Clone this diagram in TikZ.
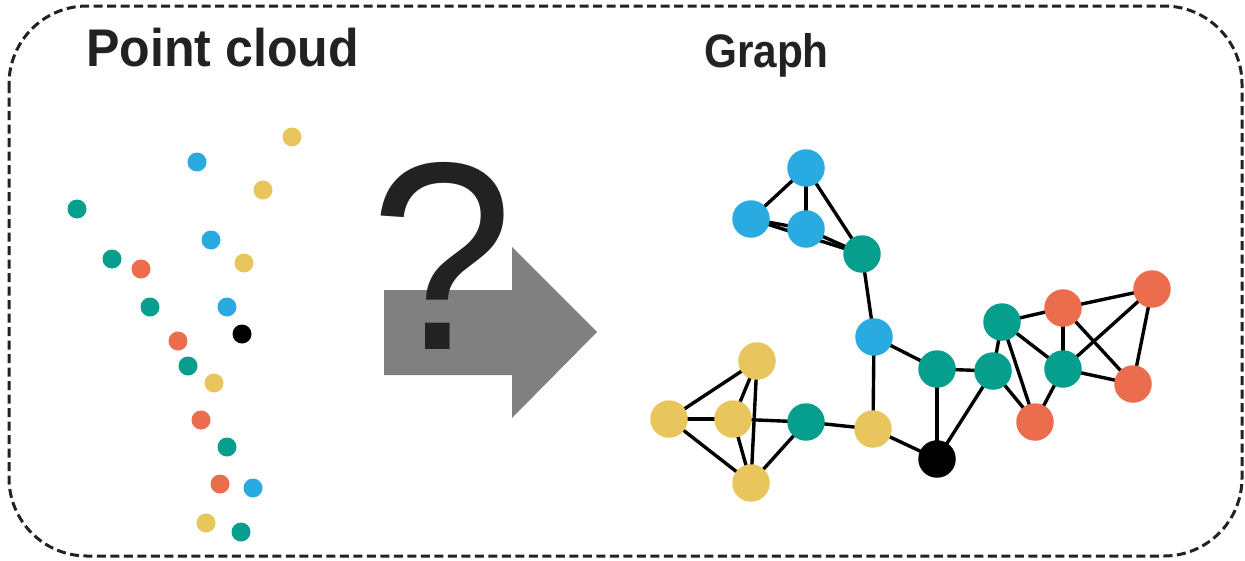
\documentclass[tikz,border=0pt]{standalone}
\usepackage{fontspec}
\setmainfont{Liberation Sans}
\begin{document}
\begin{tikzpicture}[x=1pt,y=-1pt,
  pt/.style={circle,inner sep=0pt,minimum size=19pt},
  gn/.style={circle,inner sep=0pt,minimum size=37.5pt},
  edge/.style={line width=3.4pt,black},
  title/.style={text=cText,inner sep=0pt,anchor=base west}]
\definecolor{cBlue}{HTML}{29ABE2}
\definecolor{cTeal}{HTML}{069F8E}
\definecolor{cYel}{HTML}{E9C55D}
\definecolor{cRed}{HTML}{EC6D4E}
\definecolor{cText}{HTML}{222222}
\definecolor{cArrow}{HTML}{808080}
\useasboundingbox (0,0) rectangle (1245,560);
% border
\draw[line width=3pt,dash pattern=on 9pt off 4.5pt,color=cText,rounded corners=78pt]
  (9,6) rectangle (1242,556);
% titles
\node[title,font=\fontsize{53}{53}\selectfont\bfseries] (tpc) at (86,66) {\scalebox{0.945}[1]{Point cloud}};
\node[title,font=\fontsize{47}{47}\selectfont\bfseries] (tg) at (704,67) {\scalebox{0.9}[1]{Graph}};
% arrow
\fill[cArrow] (384,290) -- (512,290) -- (512,247) -- (597,332) -- (512,418) -- (512,375) -- (384,375) -- cycle;
\node[inner sep=0pt,anchor=base west,text=cText,font=\fontsize{268}{268}\selectfont] (q) at (370,349) {\scalebox{0.96}[1]{?}};
% point cloud
\foreach \x/\y/\c [count=\i] in {292/137/cYel,197/162/cBlue,263/190/cYel,77/209/cTeal,211/240/cBlue,
  112/259/cTeal,141/269/cRed,244/263/cYel,150/307/cTeal,227/307/cBlue,242/334/black,178/341/cRed,
  188/366/cTeal,214/383/cYel,201/420/cRed,227/447/cTeal,220/484/cRed,253/488/cBlue,206/523/cYel,241/532/cTeal}
  \node[pt,fill=\c] (p\i) at (\x,\y) {};
% graph nodes
\coordinate (B1) at (806,168);
\coordinate (B2) at (751,219);
\coordinate (B3) at (806,229);
\coordinate (T1) at (862,254);
\coordinate (B4) at (874,337);
\coordinate (T2) at (937,369);
\coordinate (Y1) at (757,361);
\coordinate (Y2) at (669,419);
\coordinate (Y3) at (733,419);
\coordinate (T3) at (806,422);
\coordinate (Y4) at (873,429);
\coordinate (Y5) at (751,483);
\coordinate (K) at (937,459);
\coordinate (T4) at (993,371);
\coordinate (T5) at (1002,322);
\coordinate (R1) at (1063,308);
\coordinate (R2) at (1152,289);
\coordinate (T6) at (1063,369);
\coordinate (R3) at (1133,384);
\coordinate (R4) at (1035,422);
\foreach \a/\b in {B1/B2,B1/B3,B1/T1,B2/B3,B2/T1,B3/T1,T1/B4,B4/T2,B4/Y4,
  Y1/Y2,Y1/Y3,Y1/Y5,Y2/Y3,Y2/Y5,Y3/Y5,Y3/T3,T3/Y5,T3/Y4,Y4/K,T2/K,K/T4,T2/T4,
  T4/T5,T4/R4,T5/R1,T5/T6,T5/R4,T6/R1,T6/R2,T6/R3,T6/R4,R1/R2,R1/R3,R2/R3}
  \draw[edge] (\a) -- (\b);
\foreach \n/\c in {B1/cBlue,B2/cBlue,B3/cBlue,T1/cTeal,B4/cBlue,T2/cTeal,Y1/cYel,Y2/cYel,Y3/cYel,
  T3/cTeal,Y4/cYel,Y5/cYel,K/black,T4/cTeal,T5/cTeal,R1/cRed,R2/cRed,T6/cTeal,R3/cRed,R4/cRed}
  \node[gn,fill=\c] (n\n) at (\n) {};
\end{tikzpicture}
\end{document}
